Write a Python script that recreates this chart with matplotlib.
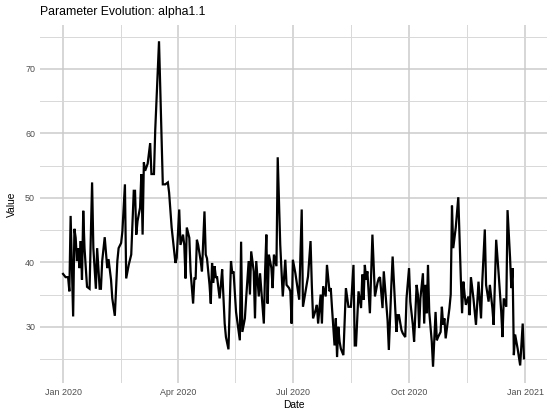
import matplotlib
matplotlib.use("Agg")
import matplotlib.pyplot as plt
import matplotlib.dates as mdates
import numpy as np
import pandas as pd

# days since 2020-01-01 and parameter value
days = [
    0, 2, 4, 5, 6, 8, 9, 10, 11, 12, 13, 14, 15, 16, 17, 19, 21, 23, 24, 26,
    27, 29, 30, 31, 33, 35, 36, 38, 39, 41, 43, 44, 46, 47, 49, 50, 52, 54, 56, 57,
    58, 59, 61, 62, 63, 64, 65, 67, 69, 70, 72, 73, 76, 79, 81, 83, 84, 86, 89, 90,
    92, 93, 95, 96, 97, 98, 100, 101, 103, 104, 105, 106, 107, 109, 110, 112, 113, 114, 116, 117,
    118, 119, 120, 121, 122, 124, 125, 126, 128, 129, 131, 133, 134, 135, 137, 140, 141, 142, 144, 145,
    147, 148, 149, 151, 152, 153, 155, 156, 159, 160, 161, 162, 163, 165, 166, 167, 169, 170, 172, 174,
    176, 177, 179, 180, 181, 182, 184, 186, 187, 189, 190, 192, 194, 196, 197, 198, 200, 201, 202, 204,
    205, 206, 208, 209, 211, 212, 213, 215, 216, 217, 218, 219, 220, 222, 224, 226, 227, 228, 230, 231,
    232, 234, 235, 236, 237, 238, 239, 240, 241, 243, 245, 247, 249, 250, 251, 253, 254, 255, 257, 258,
    260, 261, 264, 265, 266, 268, 269, 271, 272, 274, 275, 277, 278, 280, 281, 282, 283, 285, 286, 287,
    288, 289, 290, 292, 293, 295, 296, 297, 299, 300, 301, 302, 303, 305, 306, 307, 308, 309, 311, 313,
    315, 316, 317, 318, 319, 321, 322, 323, 325, 327, 329, 330, 331, 332, 334, 335, 337, 338, 340, 341,
    343, 345, 347, 348, 349, 351, 352, 354, 355, 356, 357, 358, 360, 362, 364, 365,
]
values = [
    38.2, 37.7, 37.7, 35.5, 47.2, 31.6, 45.2, 43.8, 40.2, 42.2, 39.1, 43.3, 37.3, 48.0, 42.2, 36.2, 35.9, 52.4, 42.2, 35.9,
    42.2, 35.9, 35.9, 40.2, 43.9, 39.1, 40.5, 37.3, 34.4, 31.7, 40.2, 42.2, 43.0, 44.8, 52.1, 37.5, 39.6, 41.2, 51.1, 51.1,
    44.3, 46.4, 48.5, 53.7, 44.3, 55.5, 54.2, 55.3, 58.5, 53.7, 53.7, 60.5, 74.3, 52.1, 52.1, 52.4, 50.8, 45.4, 39.9, 40.7,
    48.2, 42.7, 44.3, 42.7, 37.5, 45.4, 43.8, 38.6, 33.6, 37.5, 37.5, 43.5, 42.7, 40.2, 38.6, 47.9, 41.2, 40.6, 36.5, 33.6,
    39.9, 36.8, 39.4, 37.7, 37.7, 34.4, 36.5, 38.9, 30.5, 28.4, 26.5, 40.2, 38.3, 38.6, 32.3, 27.9, 43.2, 29.2, 31.3, 34.4,
    40.2, 35.0, 41.7, 38.6, 31.3, 40.2, 34.7, 38.3, 30.5, 38.6, 44.3, 33.6, 41.2, 39.1, 36.0, 41.2, 39.4, 56.3, 42.7, 34.7,
    40.4, 36.5, 36.0, 35.5, 30.5, 40.4, 38.3, 35.5, 34.2, 48.2, 33.1, 35.5, 37.8, 43.3, 36.5, 31.3, 32.6, 33.4, 30.5, 35.0,
    30.5, 36.3, 34.7, 39.6, 35.5, 36.0, 32.9, 27.1, 31.3, 25.3, 30.0, 27.7, 26.6, 25.6, 36.0, 33.1, 33.1, 33.1, 39.6, 27.1,
    27.1, 35.5, 34.2, 32.9, 38.1, 34.2, 39.6, 37.3, 38.6, 32.1, 44.3, 34.7, 36.8, 37.5, 37.7, 32.9, 38.6, 36.0, 31.0, 26.4,
    36.5, 40.9, 29.2, 31.8, 31.8, 29.5, 29.0, 28.4, 34.4, 39.1, 33.9, 30.3, 27.7, 36.5, 35.0, 29.8, 34.4, 38.3, 30.5, 36.5,
    32.1, 39.6, 32.3, 27.7, 23.8, 32.3, 27.9, 28.4, 29.2, 33.1, 30.3, 31.3, 28.2, 31.3, 32.9, 35.0, 48.8, 42.2, 45.4, 50.1,
    37.5, 32.1, 37.0, 35.0, 33.4, 34.7, 31.8, 37.7, 34.4, 30.3, 37.0, 34.2, 31.3, 37.0, 45.1, 36.5, 33.9, 36.5, 32.9, 30.3,
    43.5, 38.1, 32.3, 28.4, 34.4, 33.1, 48.1, 40.7, 36.0, 39.1, 25.6, 28.8, 26.6, 24.0, 30.5, 25.1,
]

param_name = "alpha1.1"
start_date = "2020-01-01"

dates = pd.to_datetime(start_date) + pd.to_timedelta(days, unit="D")

plt.rcParams["font.family"] = ["Liberation Sans", "DejaVu Sans"]

fig = plt.figure(figsize=(5.48, 4.09), dpi=100)
ax = fig.add_axes([40 / 548, 1 - 383 / 409, 507 / 548, 358 / 409])

ax.plot(dates, values, color="black", linewidth=1.6, solid_joinstyle="miter")
ax.margins(x=0.05, y=0.05)

# x axis: quarterly major breaks, minor breaks halfway between
major = pd.to_datetime(["2020-01-01", "2020-04-01", "2020-07-01", "2020-10-01", "2021-01-01"])
major_num = mdates.date2num(major)
minor_num = (major_num[:-1] + major_num[1:]) / 2
ax.set_xticks(major_num)
ax.set_xticks(minor_num, minor=True)
ax.xaxis.set_major_formatter(mdates.DateFormatter("%b %Y"))

ax.set_yticks([30, 40, 50, 60, 70])
ax.set_yticks([25, 35, 45, 55, 65, 75], minor=True)

ax.grid(which="major", color="#cbcbcb", linewidth=1.1)
ax.grid(which="minor", color="#d8d8d8", linewidth=0.7)
ax.set_axisbelow(True)
for s in ax.spines.values():
    s.set_visible(False)
ax.tick_params(which="both", length=0)
ax.tick_params(axis="both", labelsize=6.4, labelcolor="#4d4d4d")
ax.tick_params(axis="x", pad=3.5)
ax.tick_params(axis="y", pad=3.5)

ax.set_xlabel("Date", fontsize=7.4, labelpad=2)
ax.set_ylabel("Value", fontsize=7.4, labelpad=6)
ax.set_title(f"Parameter Evolution: {param_name}", fontsize=8.8, loc="left", pad=7)

fig.savefig("out.png", dpi=100)
